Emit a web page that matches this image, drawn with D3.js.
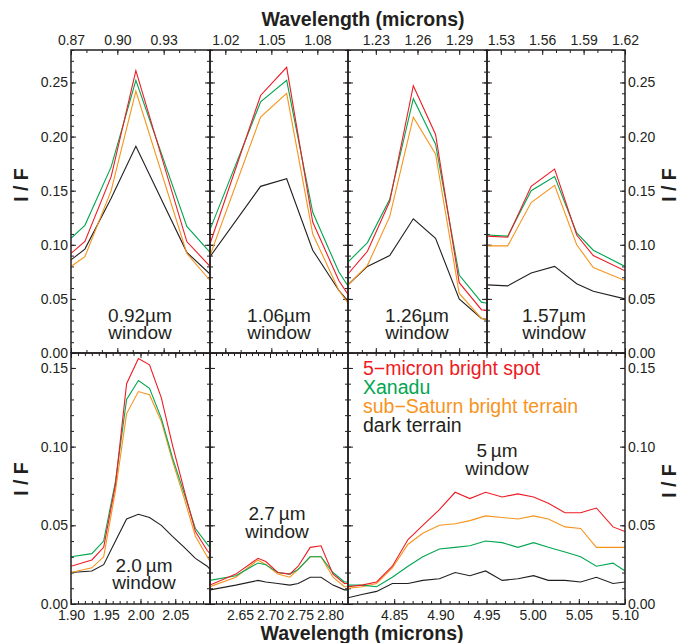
<!DOCTYPE html>
<html>
<head>
<meta charset="utf-8">
<script src="https://cdn.jsdelivr.net/npm/d3@7"></script>
<style>
  body { margin: 0; background: #fff; }
  svg { display: block; }
</style>
</head>
<body>
<div id="chart"></div>
<script>
// series names and colours
var seriesNames = ["5\u2212micron bright spot", "Xanadu", "sub\u2212Saturn bright terrain", "dark terrain"];
var seriesColors = ["#ed1c24", "#00a651", "#f7941d", "#231f20"];

// 0.92 micron window
var wl092 = [0.870, 0.879, 0.896, 0.912, 0.945, 0.960];
var spot092 = [0.092, 0.103, 0.163, 0.261, 0.103, 0.080];
var xan092 = [0.106, 0.118, 0.172, 0.252, 0.117, 0.093];
var sub092 = [0.080, 0.089, 0.150, 0.242, 0.092, 0.067];
var dark092 = [0.086, 0.096, 0.143, 0.191, 0.093, 0.073];

// 1.06 micron window
var wl106 = [1.010, 1.043, 1.060, 1.077, 1.094, 1.100];
var spot106 = [0.101, 0.238, 0.264, 0.121, 0.067, 0.054];
var xan106 = [0.114, 0.232, 0.252, 0.130, 0.075, 0.062];
var sub106 = [0.090, 0.218, 0.240, 0.110, 0.058, 0.046];
var dark106 = [0.089, 0.154, 0.161, 0.095, 0.058, 0.048];

// 1.26 micron window
var wl126 = [1.210, 1.224, 1.240, 1.257, 1.273, 1.290, 1.306, 1.310];
var spot126 = [0.073, 0.094, 0.140, 0.247, 0.202, 0.065, 0.040, 0.039];
var xan126 = [0.084, 0.102, 0.142, 0.235, 0.193, 0.072, 0.047, 0.046];
var sub126 = [0.063, 0.081, 0.126, 0.218, 0.184, 0.055, 0.032, 0.031];
var dark126 = [0.063, 0.080, 0.090, 0.124, 0.106, 0.050, 0.032, 0.031];

// 1.57 micron window
var wl157 = [1.520, 1.535, 1.552, 1.569, 1.585, 1.597, 1.620];
var spot157 = [0.108, 0.107, 0.154, 0.170, 0.109, 0.090, 0.076];
var xan157 = [0.109, 0.108, 0.150, 0.163, 0.111, 0.095, 0.080];
var sub157 = [0.099, 0.099, 0.139, 0.155, 0.100, 0.079, 0.067];
var dark157 = [0.063, 0.062, 0.074, 0.080, 0.064, 0.057, 0.050];

// 2.0 micron window
var wl20 = [1.900, 1.930, 1.947, 1.964, 1.980, 1.997, 2.013, 2.030, 2.046, 2.063, 2.079, 2.096, 2.100];
var spot20 = [0.024, 0.028, 0.036, 0.076, 0.140, 0.156, 0.152, 0.131, 0.101, 0.072, 0.046, 0.034, 0.032];
var xan20 = [0.030, 0.032, 0.040, 0.078, 0.130, 0.142, 0.137, 0.118, 0.093, 0.070, 0.048, 0.038, 0.036];
var sub20 = [0.020, 0.023, 0.030, 0.072, 0.121, 0.135, 0.133, 0.116, 0.091, 0.067, 0.043, 0.030, 0.027];
var dark20 = [0.020, 0.021, 0.025, 0.040, 0.054, 0.057, 0.055, 0.050, 0.043, 0.036, 0.029, 0.024, 0.022];

// 2.7 micron window
var wl27 = [2.600, 2.643, 2.680, 2.693, 2.713, 2.733, 2.747, 2.767, 2.785, 2.805, 2.824, 2.830];
var spot27 = [0.012, 0.019, 0.029, 0.027, 0.020, 0.019, 0.024, 0.036, 0.037, 0.019, 0.013, 0.013];
var xan27 = [0.015, 0.018, 0.026, 0.025, 0.020, 0.019, 0.022, 0.030, 0.030, 0.020, 0.014, 0.014];
var sub27 = [0.011, 0.017, 0.028, 0.025, 0.019, 0.017, 0.022, 0.030, 0.030, 0.017, 0.011, 0.011];
var dark27 = [0.009, 0.012, 0.015, 0.014, 0.013, 0.012, 0.013, 0.017, 0.017, 0.012, 0.009, 0.009];

// 5 micron window
var wl5 = [4.800, 4.815, 4.831, 4.848, 4.865, 4.881, 4.899, 4.916, 4.932, 4.949, 4.967, 4.984, 5.001, 5.017, 5.035, 5.052, 5.069, 5.087, 5.100];
var spot5 = [0.011, 0.012, 0.014, 0.024, 0.041, 0.050, 0.060, 0.071, 0.067, 0.071, 0.068, 0.070, 0.068, 0.064, 0.058, 0.058, 0.061, 0.049, 0.046];
var xan5 = [0.012, 0.012, 0.011, 0.017, 0.024, 0.030, 0.035, 0.036, 0.037, 0.040, 0.039, 0.036, 0.039, 0.036, 0.033, 0.030, 0.024, 0.026, 0.021];
var sub5 = [0.010, 0.011, 0.013, 0.023, 0.038, 0.045, 0.050, 0.051, 0.053, 0.056, 0.055, 0.054, 0.056, 0.054, 0.049, 0.048, 0.036, 0.036, 0.036];
var dark5 = [0.004, 0.006, 0.008, 0.013, 0.013, 0.015, 0.016, 0.020, 0.018, 0.021, 0.015, 0.016, 0.018, 0.015, 0.015, 0.014, 0.017, 0.013, 0.014];

// axis tick labels
var xTicks092 = [0.87, 0.90, 0.93];
var xTicks106 = [1.02, 1.05, 1.08];
var xTicks126 = [1.23, 1.26, 1.29];
var xTicks157 = [1.53, 1.56, 1.59, 1.62];
var xTicks20 = [1.90, 1.95, 2.00, 2.05];
var xTicks27 = [2.65, 2.70, 2.75, 2.80];
var xTicks5 = [4.85, 4.90, 4.95, 5.00, 5.05, 5.10];
var yTicksTop = [0, 0.05, 0.10, 0.15, 0.20, 0.25];
var yTicksBottom = [0, 0.05, 0.10, 0.15];

var FONT = "'Liberation Sans', Arial, Helvetica, sans-serif";
var INK = "#231f20";

var W = 678, H = 643;
var top0 = 50, mid = 353, bot = 604;

var panels = [
  {x0: 71, x1: 210, row: 0, dom: [0.87, 0.96], ticks: xTicks092, wl: wl092, ys: [spot092, xan092, sub092, dark092],
   label: ["0.92\u00b5m", "window"], lx: 140, ly: 321.5, left: true},
  {x0: 210, x1: 348, row: 0, dom: [1.01, 1.10], ticks: xTicks106, wl: wl106, ys: [spot106, xan106, sub106, dark106],
   label: ["1.06\u00b5m", "window"], lx: 279, ly: 321.5},
  {x0: 348, x1: 487, row: 0, dom: [1.21, 1.31], ticks: xTicks126, wl: wl126, ys: [spot126, xan126, sub126, dark126],
   label: ["1.26\u00b5m", "window"], lx: 417, ly: 321.5},
  {x0: 487, x1: 625, row: 0, dom: [1.52, 1.62], ticks: xTicks157, wl: wl157, ys: [spot157, xan157, sub157, dark157],
   label: ["1.57\u00b5m", "window"], lx: 554, ly: 321.5, right: true},
  {x0: 71, x1: 210, row: 1, dom: [1.90, 2.10], ticks: xTicks20, wl: wl20, ys: [spot20, xan20, sub20, dark20],
   label: ["2.0\u2009\u00b5m", "window"], lx: 144, ly: 571.5, left: true},
  {x0: 210, x1: 348, row: 1, dom: [2.60, 2.83], ticks: xTicks27, wl: wl27, ys: [spot27, xan27, sub27, dark27],
   label: ["2.7\u2009\u00b5m", "window"], lx: 277, ly: 520},
  {x0: 348, x1: 625, row: 1, dom: [4.80, 5.10], ticks: xTicks5, wl: wl5, ys: [spot5, xan5, sub5, dark5],
   label: ["5\u2009\u00b5m", "window"], lx: 497, ly: 457, right: true, legend: true}
];

var svg = d3.select("#chart").append("svg")
    .attr("width", W)
    .attr("height", H)
    .style("font-family", FONT);

var defs = svg.append("defs");

function styleAxis(g, size) {
  g.select(".domain").remove();
  g.selectAll("line").attr("stroke", INK).attr("stroke-width", 1);
  g.selectAll("text")
    .attr("fill", INK)
    .style("font-family", FONT)
    .style("font-size", size + "px");
}

function minorRange(a, b, step) {
  var out = [];
  var n0 = Math.ceil(a / step - 1e-6), n1 = Math.floor(b / step + 1e-6);
  for (var i = n0; i <= n1; i++) out.push(+(i * step).toFixed(4));
  return out;
}

panels.forEach(function (p, i) {
  var y0 = p.row === 0 ? top0 : mid,
      y1 = p.row === 0 ? mid : bot;
  var yMax = p.row === 0 ? 0.28 : 0.1595;

  var x = d3.scaleLinear().domain(p.dom).range([p.x0, p.x1]);
  var y = d3.scaleLinear().domain([0, yMax]).range([y1, y0]);

  var g = svg.append("g");
  var xMinor = minorRange(p.dom[0], p.dom[1], 0.01);
  var yMinor = minorRange(0, yMax, 0.01);
  var yMajor = p.row === 0 ? yTicksTop : yTicksBottom;

  // x ticks, top edge of panel
  var axTop = d3.axisBottom(x).tickValues(xMinor).tickFormat("").tickSize(3);
  var axTopMaj = d3.axisBottom(x).tickValues(p.ticks).tickFormat("").tickSize(5);
  g.append("g").attr("transform", "translate(0," + y0 + ")").call(axTop).call(styleAxis, 14);
  g.append("g").attr("transform", "translate(0," + y0 + ")").call(axTopMaj).call(styleAxis, 14);
  // x ticks, bottom edge of panel
  var axBot = d3.axisTop(x).tickValues(xMinor).tickFormat("").tickSize(3);
  var axBotMaj = d3.axisTop(x).tickValues(p.ticks).tickFormat("").tickSize(5);
  g.append("g").attr("transform", "translate(0," + y1 + ")").call(axBot).call(styleAxis, 14);
  g.append("g").attr("transform", "translate(0," + y1 + ")").call(axBotMaj).call(styleAxis, 14);

  // x tick labels
  if (p.row === 0) {
    var lab = d3.axisTop(x).tickValues(p.ticks).tickFormat(d3.format(".2f")).tickSize(0).tickPadding(5);
    g.append("g").attr("transform", "translate(0," + y0 + ")").call(lab).call(styleAxis, 14);
  } else {
    var lab2 = d3.axisBottom(x).tickValues(p.ticks).tickFormat(d3.format(".2f")).tickSize(0).tickPadding(6);
    g.append("g").attr("transform", "translate(0," + y1 + ")").call(lab2).call(styleAxis, 14);
  }

  // y ticks on both sides of each panel, pointing inward
  g.append("g").attr("transform", "translate(" + p.x0 + ",0)")
    .call(d3.axisRight(y).tickValues(yMinor).tickFormat("").tickSize(3)).call(styleAxis, 14);
  g.append("g").attr("transform", "translate(" + p.x0 + ",0)")
    .call(d3.axisRight(y).tickValues(yMajor).tickFormat("").tickSize(5)).call(styleAxis, 14);
  g.append("g").attr("transform", "translate(" + p.x1 + ",0)")
    .call(d3.axisLeft(y).tickValues(yMinor).tickFormat("").tickSize(3)).call(styleAxis, 14);
  g.append("g").attr("transform", "translate(" + p.x1 + ",0)")
    .call(d3.axisLeft(y).tickValues(yMajor).tickFormat("").tickSize(5)).call(styleAxis, 14);

  if (p.left) {
    g.append("g").attr("transform", "translate(" + p.x0 + ",0)")
      .call(d3.axisLeft(y).tickValues(yMajor).tickFormat(d3.format(".2f")).tickSize(0).tickPadding(3))
      .call(styleAxis, 14);
  }
  if (p.right) {
    g.append("g").attr("transform", "translate(" + p.x1 + ",0)")
      .call(d3.axisRight(y).tickValues(yMajor).tickFormat(d3.format(".2f")).tickSize(0).tickPadding(3))
      .call(styleAxis, 14);
  }

  // spectra, clipped to the panel
  defs.append("clipPath").attr("id", "clip" + i)
    .append("rect")
      .attr("x", p.x0).attr("y", y0)
      .attr("width", p.x1 - p.x0).attr("height", y1 - y0);

  var line = d3.line()
    .x(function (d) { return x(d[0]); })
    .y(function (d) { return y(d[1]); });

  var lines = g.append("g").attr("clip-path", "url(#clip" + i + ")");
  for (var s = p.ys.length - 1; s >= 0; s--) {
    var pts = p.wl.map(function (w, k) { return [w, p.ys[s][k]]; });
    lines.append("path")
      .datum(pts)
      .attr("d", line)
      .attr("fill", "none")
      .attr("stroke", seriesColors[s])
      .attr("stroke-width", 1.1)
      .attr("stroke-linejoin", "miter");
  }

  // window label, two lines
  p.label.forEach(function (txt, k) {
    g.append("text")
      .attr("x", p.lx)
      .attr("y", p.ly + k * 17.5)
      .attr("text-anchor", "middle")
      .attr("fill", INK)
      .style("font-size", "19px")
      .text(txt);
  });

  // legend
  if (p.legend) {
    seriesNames.forEach(function (name, k) {
      g.append("text")
        .attr("x", 363)
        .attr("y", 374.5 + k * 19.3)
        .attr("fill", seriesColors[k])
        .style("font-size", "19.5px")
        .text(name);
    });
  }

  // panel frame
  g.append("rect")
    .attr("x", p.x0).attr("y", y0)
    .attr("width", p.x1 - p.x0).attr("height", y1 - y0)
    .attr("fill", "none")
    .attr("stroke", INK)
    .attr("stroke-width", 1.5);
});

// axis titles
svg.append("text")
  .attr("x", 363).attr("y", 25.5)
  .attr("text-anchor", "middle")
  .attr("fill", INK)
  .style("font-size", "19.5px").style("font-weight", "bold")
  .text("Wavelength (microns)");

svg.append("text")
  .attr("x", 362).attr("y", 640)
  .attr("text-anchor", "middle")
  .attr("fill", INK)
  .style("font-size", "19.5px").style("font-weight", "bold")
  .text("Wavelength (microns)");

[[28, 185], [28, 479], [676, 185], [676, 481]].forEach(function (c) {
  svg.append("text")
    .attr("transform", "translate(" + c[0] + "," + c[1] + ") rotate(-90)")
    .attr("text-anchor", "middle")
    .attr("fill", INK)
    .style("font-size", "19.5px").style("font-weight", "bold")
    .text("I / F");
});
</script>
</body>
</html>
